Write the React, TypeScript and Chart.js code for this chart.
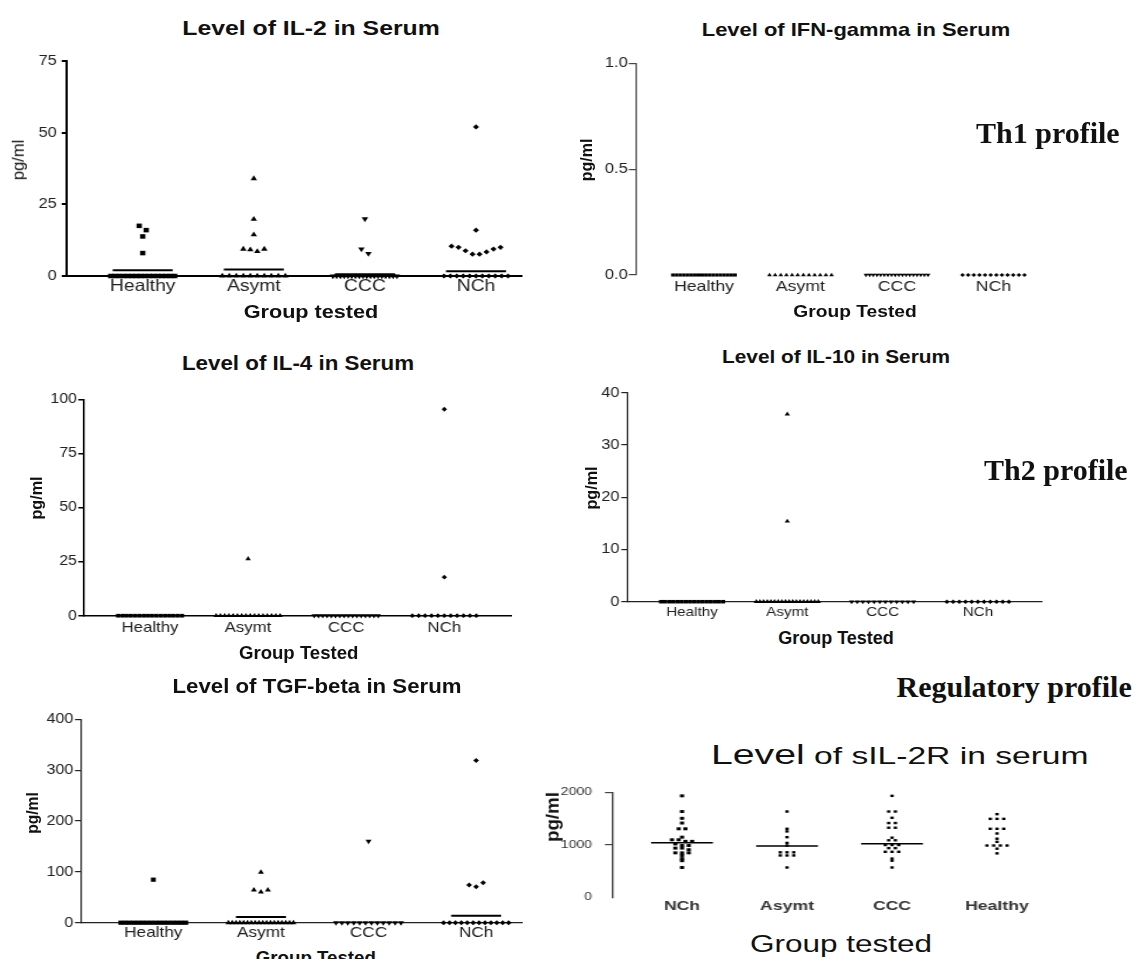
import React, { useEffect, useRef } from "react";
import { Chart, registerables } from "chart.js";

Chart.register(...registerables);

const SANS = "'Liberation Sans', Arial, Helvetica, sans-serif";
const SERIF = "'Liberation Serif', 'Times New Roman', serif";

// ---------------- data ----------------
const cytokineGroups = ["Healthy", "Asymt", "CCC", "NCh"];
const sil2rGroups = ["NCh", "Asymt", "CCC", "Healthy"];

// IL-2 (pg/ml)
const il2Ticks = [0, 25, 50, 75];
const il2Healthy = [17.5, 16, 13.8, 8, 0, 0, 0, 0, 0, 0, 0, 0, 0, 0, 0, 0, 0, 0, 0, 0];
const il2Asymt = [34, 19.8, 14.4, 9.4, 9.2, 8.6, 9.4, 0, 0, 0, 0, 0, 0, 0, 0, 0, 0];
const il2CCC = [19.9, 9.4, 7.8, 0, 0, 0, 0, 0, 0, 0, 0, 0, 0, 0, 0, 0, 0, 0, 0, 0, 0];
const il2NCh = [52, 16, 10.4, 10, 8.8, 7.6, 7.6, 8.4, 9.4, 10, 0, 0, 0, 0, 0, 0, 0, 0, 0, 0, 0];
const il2Means = [2.0, 2.3, 0.6, 1.7];

// IFN-gamma (pg/ml)
const ifnTicks = [0, 0.5, 1.0];
const ifnHealthy = [0, 0, 0, 0, 0, 0, 0, 0, 0, 0, 0, 0, 0, 0, 0, 0, 0, 0];
const ifnAsymt = [0, 0, 0, 0, 0, 0, 0, 0, 0, 0, 0, 0];
const ifnCCC = [0, 0, 0, 0, 0, 0, 0, 0, 0, 0, 0, 0, 0, 0, 0, 0, 0, 0];
const ifnNCh = [0, 0, 0, 0, 0, 0, 0, 0, 0, 0, 0, 0];

// IL-4 (pg/ml)
const il4Ticks = [0, 25, 50, 75, 100];
const il4Healthy = [0, 0, 0, 0, 0, 0, 0, 0, 0, 0, 0, 0, 0, 0, 0, 0];
const il4Asymt = [26.3, 0, 0, 0, 0, 0, 0, 0, 0, 0, 0, 0, 0, 0, 0, 0, 0];
const il4CCC = [0, 0, 0, 0, 0, 0, 0, 0, 0, 0, 0, 0, 0, 0, 0, 0];
const il4NCh = [95.4, 17.8, 0, 0, 0, 0, 0, 0, 0, 0, 0, 0, 0];

// IL-10 (pg/ml)
const il10Ticks = [0, 10, 20, 30, 40];
const il10Healthy = [0, 0, 0, 0, 0, 0, 0, 0, 0, 0, 0, 0, 0, 0, 0, 0];
const il10Asymt = [35.9, 15.4, 0, 0, 0, 0, 0, 0, 0, 0, 0, 0, 0, 0, 0, 0, 0, 0, 0, 0];
const il10CCC = [0, 0, 0, 0, 0, 0, 0, 0, 0, 0, 0, 0];
const il10NCh = [0, 0, 0, 0, 0, 0, 0, 0, 0, 0, 0];

// TGF-beta (pg/ml)
const tgfTicks = [0, 100, 200, 300, 400];
const tgfHealthy = [84.6, 0, 0, 0, 0, 0, 0, 0, 0, 0, 0, 0, 0, 0, 0, 0, 0];
const tgfAsymt = [99, 64.3, 60.4, 64.3, 0, 0, 0, 0, 0, 0, 0, 0, 0, 0, 0, 0, 0, 0, 0, 0, 0, 0];
const tgfCCC = [160, 0, 0, 0, 0, 0, 0, 0, 0, 0, 0, 0, 0];
const tgfNCh = [319, 74, 70.8, 78.7, 0, 0, 0, 0, 0, 0, 0, 0, 0, 0, 0, 0];
const tgfMeans = [null, 11.2, null, 13.8];

// sIL-2R (pg/ml)
const sil2rTicks = [0, 1000, 2000];
const sil2rNCh = [1940, 1640, 1510, 1420, 1310, 1310, 1150, 1100, 1100, 1070, 1070, 1020, 990, 990, 940, 940, 910, 850, 850, 850, 800, 740, 700, 570];
const sil2rAsymt = [1640, 1310, 1260, 1150, 1040, 990, 860, 860, 860, 800, 800, 800, 570];
const sil2rCCC = [1940, 1640, 1640, 1520, 1420, 1420, 1330, 1330, 1140, 1090, 1090, 1000, 1000, 1000, 940, 940, 870, 870, 870, 740, 700, 570];
const sil2rHealthy = [1590, 1500, 1500, 1500, 1310, 1310, 1310, 1220, 1120, 1060, 990, 990, 990, 990, 930, 840];
const sil2rMeans = [1044, 981, 1025, null];

// ---------------- layout helpers ----------------
function swarm(values: number[], idx: number, bin: number, stepU: number, maxHalfU: number) {
  const order = values.map((_, i) => i).sort((a, b) => values[b] - values[a] || a - b);
  const rows: number[][] = [];
  let cur: number[] = [];
  let start = 0;
  for (const i of order) {
    if (cur.length && start - values[i] <= bin) cur.push(i);
    else {
      if (cur.length) rows.push(cur);
      cur = [i];
      start = values[i];
    }
  }
  if (cur.length) rows.push(cur);
  const xs: number[] = new Array(values.length).fill(idx);
  for (const row of rows) {
    row.sort((a, b) => a - b);
    const k = row.length;
    let st = stepU;
    if (k > 1 && ((k - 1) / 2) * st > maxHalfU) st = maxHalfU / ((k - 1) / 2);
    row.forEach((i, j) => {
      xs[i] = idx + (j - (k - 1) / 2) * st;
    });
  }
  return values.map((v, i) => ({ x: xs[i], y: v }));
}

type Mark = { style: any; rot?: number; r: number };

interface PanelSpec {
  box: { left: number; top: number; width: number; height: number };
  sx: number;
  axisX: number;
  yTop: number;
  yZero: number;
  xRight: number;
  cat0: number;
  catStep: number;
  yMax: number;
  yTicks: number[];
  yFmt: (v: number) => string;
  categories: string[];
  series: number[][];
  marks: Mark[];
  means?: (number | null)[];
  meanHalfPx?: number;
  meanWidth?: number;
  bin: number;
  stepPx: number;
  zeroHalfPx: number;
  xLine: boolean;
  axisColor: string;
  axisWidth: number;
  yFont: number;
  yTickLen: number;
  yPad: number;
  xFont: number;
  xBold?: boolean;
  xLabelOffset: number;
  tickColor: string;
  hideZeroTick?: boolean;
}

function Panel({ spec }: { spec: PanelSpec }) {
  const ref = useRef<HTMLCanvasElement | null>(null);
  const wInt = Math.round(spec.box.width / spec.sx);
  useEffect(() => {
    const canvas = ref.current;
    if (!canvas) return;
    const k = spec.box.width / wInt;
    const chartLeft = (spec.axisX - spec.box.left) / k;
    const chartRight = (spec.xRight - spec.box.left) / k;
    const chartTop = spec.yTop - spec.box.top;
    const chartBottom = spec.yZero - spec.box.top;
    const xMin = (spec.axisX - spec.cat0) / spec.catStep;
    const xMax = (spec.xRight - spec.cat0) / spec.catStep;
    const stepU = spec.stepPx / spec.catStep;
    const halfU = spec.zeroHalfPx / spec.catStep;

    const datasets: any[] = spec.series.map((vals, i) => ({
      data: swarm(vals, i, spec.bin, stepU, halfU),
      pointStyle: spec.marks[i].style,
      pointRotation: spec.marks[i].rot || 0,
      pointRadius: spec.marks[i].r,
      pointBackgroundColor: "#000",
      backgroundColor: "#000",
      pointBorderWidth: 0,
      borderWidth: 0,
      showLine: false,
      clip: false,
    }));
    if (spec.means) {
      const h = (spec.meanHalfPx || 30) / spec.catStep;
      spec.means.forEach((m, i) => {
        if (m === null || m === undefined) return;
        datasets.push({
          data: [
            { x: i - h, y: m },
            { x: i + h, y: m },
          ],
          showLine: true,
          borderColor: "#000",
          borderWidth: spec.meanWidth || 1.5,
          pointRadius: 0,
          clip: false,
        });
      });
    }

    const xPad = Math.max(0, spec.xLabelOffset - 0.6 * spec.xFont);
    const chart = new Chart(canvas, {
      type: "scatter",
      data: { datasets },
      options: {
        animation: false,
        responsive: false,
        devicePixelRatio: 1,
        events: [],
        layout: { padding: { left: 0, top: chartTop, right: wInt - chartRight, bottom: 0 } },
        plugins: {
          legend: { display: false },
          tooltip: { enabled: false },
          title: { display: false },
        },
        scales: {
          x: {
            type: "linear",
            min: xMin,
            max: xMax,
            afterBuildTicks: (s: any) => {
              s.ticks = spec.categories.map((_, i) => ({ value: i }));
            },
            afterFit: (s: any) => {
              s.height = spec.box.height - chartBottom;
            },
            ticks: {
              autoSkip: false,
              maxRotation: 0,
              minRotation: 0,
              padding: xPad,
              color: spec.tickColor,
              font: { family: SANS, size: spec.xFont, weight: spec.xBold ? "bold" : "normal" },
              callback: (v: any) => spec.categories[Math.round(Number(v))] ?? "",
            },
            grid: { display: false, drawTicks: false },
            border: { display: spec.xLine, color: spec.axisColor, width: spec.axisWidth },
          },
          y: {
            type: "linear",
            min: 0,
            max: spec.yMax,
            afterBuildTicks: (s: any) => {
              s.ticks = spec.yTicks.map((v) => ({ value: v }));
            },
            afterFit: (s: any) => {
              s.width = chartLeft;
            },
            ticks: {
              padding: spec.yPad / k,
              color: spec.tickColor,
              font: { family: SANS, size: spec.yFont },
              callback: (v: any) => spec.yFmt(Number(v)),
            },
            grid: {
              display: true,
              drawOnChartArea: false,
              drawTicks: true,
              tickLength: spec.yTickLen / k,
              lineWidth: spec.axisWidth,
              color: (c: any) =>
                spec.hideZeroTick && c.tick && c.tick.value === 0 ? "rgba(0,0,0,0)" : spec.axisColor,
            },
            border: { display: true, color: spec.axisColor, width: spec.axisWidth },
          },
        },
      } as any,
    });
    return () => chart.destroy();
  }, [spec, wInt]);

  return (
    <canvas
      ref={ref}
      width={wInt}
      height={spec.box.height}
      style={{
        position: "absolute",
        left: spec.box.left,
        top: spec.box.top,
        width: spec.box.width + "px",
        height: spec.box.height + "px",
      }}
    />
  );
}

function Txt(props: {
  x: number;
  y: number;
  size: number;
  bold?: boolean;
  serif?: boolean;
  sx?: number;
  rotate?: boolean;
  left?: boolean;
  children: any;
}) {
  const { x, y, size, bold, serif, sx = 1, rotate, left } = props;
  const transform = rotate
    ? "translate(-50%, -50%) rotate(-90deg)"
    : left
    ? `translate(0, -50%) scaleX(${sx})`
    : `translate(-50%, -50%) scaleX(${sx})`;
  return (
    <div
      style={{
        position: "absolute",
        left: x,
        top: y,
        transform,
        transformOrigin: left ? "left center" : "center center",
        fontFamily: serif ? SERIF : SANS,
        fontSize: size + "px",
        fontWeight: bold ? "bold" : "normal",
        lineHeight: 1,
        whiteSpace: "nowrap",
        color: "#111",
      }}
    >
      {props.children}
    </div>
  );
}

const intFmt = (v: number) => String(v);
const oneDec = (v: number) => v.toFixed(1);

const cytoMarks = (rSq: number, rTri: number, rDia: number): Mark[] => [
  { style: "rect", r: rSq },
  { style: "triangle", r: rTri },
  { style: "triangle", rot: 180, r: rTri },
  { style: "rectRot", r: rDia },
];

const il2Spec: PanelSpec = {
  box: { left: 0, top: 40, width: 540, height: 262 },
  sx: 1.17,
  axisX: 66.7,
  yTop: 61,
  yZero: 276,
  xRight: 522,
  cat0: 142.7,
  catStep: 111.1,
  yMax: 75,
  yTicks: il2Ticks,
  yFmt: intFmt,
  categories: cytokineGroups,
  series: [il2Healthy, il2Asymt, il2CCC, il2NCh],
  marks: cytoMarks(3.2, 3.2, 2.6),
  means: il2Means,
  meanHalfPx: 30,
  meanWidth: 2,
  bin: 3,
  stepPx: 7,
  zeroHalfPx: 32,
  xLine: true,
  axisColor: "#000",
  axisWidth: 2,
  yFont: 14,
  yTickLen: 5,
  yPad: 5,
  xFont: 16.5,
  xLabelOffset: 10,
  tickColor: "#222",
};

const ifnSpec: PanelSpec = {
  box: { left: 560, top: 40, width: 500, height: 262 },
  sx: 1.18,
  axisX: 636.2,
  yTop: 63.3,
  yZero: 275,
  xRight: 1045,
  cat0: 704,
  catStep: 96.5,
  yMax: 1,
  yTicks: ifnTicks,
  yFmt: oneDec,
  categories: cytokineGroups,
  series: [ifnHealthy, ifnAsymt, ifnCCC, ifnNCh],
  marks: cytoMarks(2.2, 2.3, 2),
  bin: 0.02,
  stepPx: 6,
  zeroHalfPx: 31,
  xLine: false,
  axisColor: "#444",
  axisWidth: 1.2,
  yFont: 14,
  yTickLen: 7.4,
  yPad: 1,
  xFont: 15,
  xLabelOffset: 11.7,
  tickColor: "#222",
};

const il4Spec: PanelSpec = {
  box: { left: 0, top: 380, width: 540, height: 262 },
  sx: 1.12,
  axisX: 83.3,
  yTop: 399.3,
  yZero: 615.7,
  xRight: 511.7,
  cat0: 150,
  catStep: 98.1,
  yMax: 100,
  yTicks: il4Ticks,
  yFmt: intFmt,
  categories: cytokineGroups,
  series: [il4Healthy, il4Asymt, il4CCC, il4NCh],
  marks: cytoMarks(2.6, 2.8, 2.4),
  bin: 3,
  stepPx: 7,
  zeroHalfPx: 32,
  xLine: true,
  axisColor: "#000",
  axisWidth: 1.5,
  yFont: 14,
  yTickLen: 5,
  yPad: 1.6,
  xFont: 15,
  xLabelOffset: 11.7,
  tickColor: "#222",
};

const il10Spec: PanelSpec = {
  box: { left: 560, top: 375, width: 500, height: 250 },
  sx: 1.17,
  axisX: 628,
  yTop: 392.7,
  yZero: 601.7,
  xRight: 1041.5,
  cat0: 692,
  catStep: 95.3,
  yMax: 40,
  yTicks: il10Ticks,
  yFmt: intFmt,
  categories: cytokineGroups,
  series: [il10Healthy, il10Asymt, il10CCC, il10NCh],
  marks: cytoMarks(2.5, 2.6, 2.2),
  bin: 1.5,
  stepPx: 7,
  zeroHalfPx: 31,
  xLine: true,
  axisColor: "#222",
  axisWidth: 1.2,
  yFont: 14,
  yTickLen: 6.7,
  yPad: 1.8,
  xFont: 13,
  xLabelOffset: 10.6,
  tickColor: "#222",
};

const tgfSpec: PanelSpec = {
  box: { left: 0, top: 700, width: 540, height: 245 },
  sx: 1.15,
  axisX: 81,
  yTop: 719.3,
  yZero: 922.7,
  xRight: 522,
  cat0: 153.3,
  catStep: 107.6,
  yMax: 400,
  yTicks: tgfTicks,
  yFmt: intFmt,
  categories: cytokineGroups,
  series: [tgfHealthy, tgfAsymt, tgfCCC, tgfNCh],
  marks: cytoMarks(3, 3, 2.5),
  means: tgfMeans,
  meanHalfPx: 25,
  meanWidth: 2,
  bin: 8,
  stepPx: 7,
  zeroHalfPx: 32.5,
  xLine: true,
  axisColor: "#222",
  axisWidth: 1.2,
  yFont: 14,
  yTickLen: 6,
  yPad: 1.7,
  xFont: 15,
  xLabelOffset: 10.6,
  tickColor: "#222",
};

const sil2rSpec: PanelSpec = {
  box: { left: 560, top: 770, width: 500, height: 150 },
  sx: 1.4,
  axisX: 612.7,
  yTop: 792.7,
  yZero: 897.3,
  xRight: 1045,
  cat0: 682,
  catStep: 105,
  yMax: 2000,
  yTicks: sil2rTicks,
  yFmt: intFmt,
  categories: sil2rGroups,
  series: [sil2rNCh, sil2rAsymt, sil2rCCC, sil2rHealthy],
  marks: [
    { style: "rect", r: 2.1 },
    { style: "rect", r: 1.7 },
    { style: "rect", r: 1.7 },
    { style: "rect", r: 1.7 },
  ],
  means: sil2rMeans,
  meanHalfPx: 31,
  meanWidth: 1.5,
  bin: 30,
  stepPx: 6.7,
  zeroHalfPx: 30,
  xLine: false,
  axisColor: "#444",
  axisWidth: 1.2,
  yFont: 10,
  yTickLen: 7.7,
  yPad: 13,
  xFont: 12.6,
  xBold: true,
  xLabelOffset: 9.4,
  tickColor: "#333",
  hideZeroTick: true,
};

export default function App() {
  return (
    <div
      style={{
        position: "absolute",
        left: 0,
        top: 0,
        width: 1140,
        height: 959,
        overflow: "hidden",
        background: "#fff",
      }}
    >
      <Panel spec={il2Spec} />
      <Panel spec={ifnSpec} />
      <Panel spec={il4Spec} />
      <Panel spec={il10Spec} />
      <Panel spec={tgfSpec} />
      <Panel spec={sil2rSpec} />

      {/* IL-2 */}
      <Txt x={310.8} y={26.7} size={21} bold sx={1.18}>Level of IL-2 in Serum</Txt>
      <Txt x={310.8} y={312} size={18.5} bold sx={1.17}>Group tested</Txt>
      <Txt x={18.3} y={160} size={16.5} rotate>pg/ml</Txt>

      {/* IFN-gamma */}
      <Txt x={855.6} y={30} size={18.6} bold sx={1.18}>Level of IFN-gamma in Serum</Txt>
      <Txt x={854.7} y={311} size={16.3} bold sx={1.18}>Group Tested</Txt>
      <Txt x={587} y={160} size={16} bold rotate>pg/ml</Txt>
      <Txt x={976} y={133} size={30} bold serif left>Th1 profile</Txt>

      {/* IL-4 */}
      <Txt x={298.3} y={363.3} size={20.5} bold sx={1.09}>Level of IL-4 in Serum</Txt>
      <Txt x={298.7} y={653.3} size={18.6} bold>Group Tested</Txt>
      <Txt x={35.8} y={498.3} size={16.2} bold rotate>pg/ml</Txt>

      {/* IL-10 */}
      <Txt x={836} y={357.3} size={18.6} bold sx={1.12}>Level of IL-10 in Serum</Txt>
      <Txt x={836} y={638.3} size={18} bold>Group Tested</Txt>
      <Txt x={590.7} y={488.3} size={16.2} bold rotate>pg/ml</Txt>
      <Txt x={984} y={470} size={30} bold serif left>Th2 profile</Txt>

      {/* TGF-beta */}
      <Txt x={316.7} y={686.7} size={19.5} bold sx={1.14}>Level of TGF-beta in Serum</Txt>
      <Txt x={315.8} y={958} size={18.7} bold>Group Tested</Txt>
      <Txt x={32.5} y={812.5} size={15.6} bold rotate>pg/ml</Txt>

      {/* sIL-2R */}
      <Txt x={896.5} y={687} size={30} bold serif left>Regulatory profile</Txt>
      <Txt x={710.6} y={755} size={24} sx={1.4} left>
        <span style={{ fontSize: "28px" }}>Level</span> of sIL-2R in serum
      </Txt>
      <Txt x={840.7} y={944} size={23} sx={1.37}>Group tested</Txt>
      <Txt x={552.5} y={816.7} size={18.7} bold rotate>pg/ml</Txt>
    </div>
  );
}
